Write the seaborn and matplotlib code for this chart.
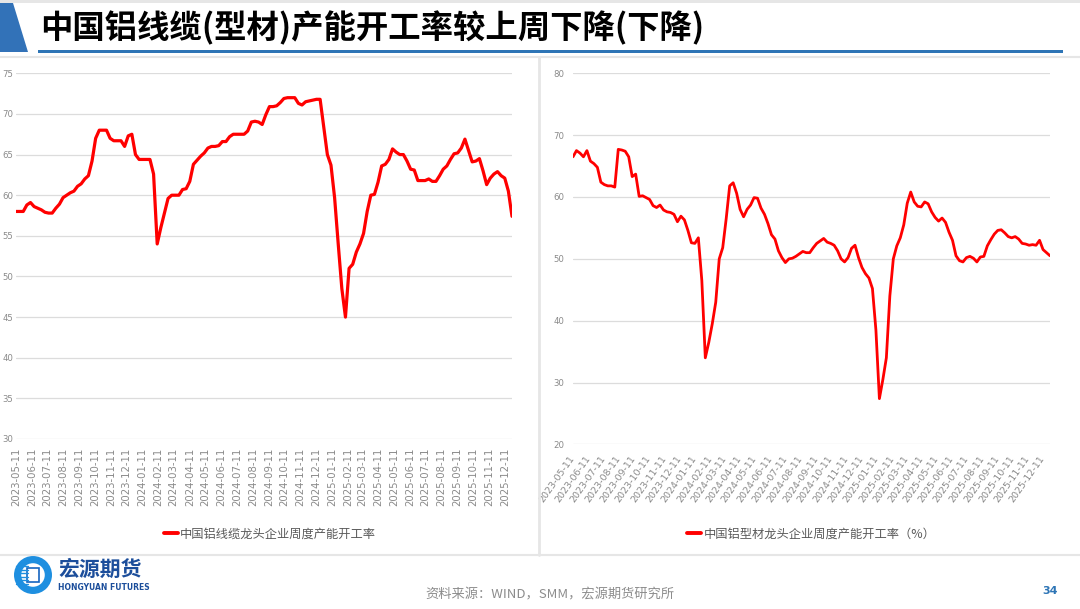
import numpy as np
import pandas as pd
import matplotlib
matplotlib.use("Agg")
import matplotlib.pyplot as plt
import matplotlib.dates as mdates
import seaborn as sns
from matplotlib.patches import Polygon, Rectangle, Circle
from matplotlib.lines import Line2D

# ---------------- data ----------------
title_text = "中国铝线缆(型材)产能开工率较上周下降(下降)"
left_label = "中国铝线缆龙头企业周度产能开工率"
right_label = "中国铝型材龙头企业周度产能开工率（%）"
source_text = "资料来源：WIND，SMM，宏源期货研究所"
page_no = "34"
brand_cn = "宏源期货"
brand_en = "HONGYUAN FUTURES"
start_date = "2023-05-11"

left_vals = [58.0, 58.0, 58.0, 58.8, 59.1, 58.6, 58.4, 58.2, 57.9, 57.8,
             57.8, 58.4, 58.9, 59.7, 60.0, 60.3, 60.5, 61.1, 61.4, 62.0,
             62.4, 64.2, 67.0, 68.0, 68.0, 68.0, 67.0, 66.7, 66.7, 66.7,
             66.0, 67.3, 67.5, 65.0, 64.4, 64.4, 64.4, 64.4, 62.6, 54.0,
             56.0, 57.8, 59.6, 60.0, 60.0, 60.0, 60.7, 60.8, 61.7, 63.8,
             64.3, 64.8, 65.2, 65.8, 66.0, 66.0, 66.1, 66.6, 66.6, 67.2,
             67.5, 67.5, 67.5, 67.5, 67.9, 69.0, 69.1, 69.0, 68.7, 69.9,
             70.9, 70.9, 71.0, 71.4, 71.9, 72.0, 72.0, 72.0, 71.3, 71.1,
             71.5, 71.6, 71.7, 71.8, 71.8, 68.4, 65.0, 63.7, 59.7, 54.0,
             48.5, 45.0, 51.0, 51.5, 53.0, 54.0, 55.3, 58.0, 60.0, 60.1,
             61.6, 63.6, 63.8, 64.4, 65.7, 65.3, 65.0, 65.0, 64.2, 63.2,
             63.1, 61.8, 61.8, 61.8, 62.0, 61.7, 61.7, 62.4, 63.2, 63.6,
             64.4, 65.1, 65.2, 65.8, 66.9, 65.5, 64.1, 64.2, 64.5, 63.0,
             61.3, 62.1, 62.6, 62.9, 62.4, 62.1, 60.5, 57.4]

right_vals = [66.5, 67.5, 67.1, 66.5, 67.5, 65.8, 65.4, 64.8, 62.4, 62.0,
              61.8, 61.8, 61.6, 67.7, 67.6, 67.4, 66.5, 63.3, 63.7, 60.1,
              60.2, 59.9, 59.6, 58.6, 58.3, 58.7, 57.9, 57.6, 57.5, 57.2,
              56.0, 56.9, 56.3, 54.6, 52.6, 52.5, 53.4, 46.5, 34.0, 36.5,
              39.5, 43.0, 50.0, 51.8, 56.5, 61.8, 62.3, 60.6, 58.0, 56.8,
              58.0, 58.7, 59.9, 59.8, 58.2, 57.2, 55.7, 53.9, 53.2, 51.3,
              50.2, 49.4, 50.0, 50.1, 50.4, 50.8, 51.2, 51.0, 51.0, 51.8,
              52.5, 52.9, 53.3, 52.7, 52.5, 52.2, 51.3, 50.0, 49.5, 50.2,
              51.7, 52.2, 50.2, 48.6, 47.6, 46.9, 45.2, 38.5, 27.4, 30.5,
              34.0, 44.0, 50.0, 52.1, 53.4, 55.5, 59.0, 60.8, 59.2, 58.5,
              58.4, 59.2, 58.9, 57.6, 56.7, 56.1, 56.6, 55.9, 54.3, 53.0,
              50.5, 49.7, 49.5, 50.2, 50.4, 50.1, 49.5, 50.3, 50.4, 52.1,
              53.1, 54.0, 54.6, 54.7, 54.2, 53.6, 53.4, 53.6, 53.2, 52.5,
              52.4, 52.2, 52.3, 52.2, 53.0, 51.5, 51.0, 50.5]

left_yticks = [30, 35, 40, 45, 50, 55, 60, 65, 70, 75]
right_yticks = [20, 30, 40, 50, 60, 70, 80]
tick_dates = pd.date_range("2023-05-11", "2025-12-11", freq=pd.DateOffset(months=1))

dates_left = pd.date_range(start_date, periods=len(left_vals), freq="7D")
dates_right = pd.date_range(start_date, periods=len(right_vals), freq="7D")
df_left = pd.DataFrame({"date": dates_left, "value": left_vals})
df_right = pd.DataFrame({"date": dates_right, "value": right_vals})

# ---------------- style ----------------
sns.set_theme(style="white")
plt.rcParams["font.family"] = ["Noto Sans CJK SC", "DejaVu Sans"]
plt.rcParams["axes.unicode_minus"] = False

W, H = 1080, 609
fig = plt.figure(figsize=(W / 100, H / 100), dpi=100)
fig.patch.set_facecolor("white")

def fx(x):
    return x / W

def fy(y):
    return 1 - y / H

tick_font = ["DejaVu Sans"]
tick_color = "#8A8A8A"
grid_color = "#DCDCDC"

axL = fig.add_axes([fx(16), fy(439), fx(512) - fx(16), fy(73.3) - fy(439)])
axR = fig.add_axes([fx(573), fy(444.4), fx(1050) - fx(573), fy(73.3) - fy(444.4)])

sns.lineplot(data=df_left, x="date", y="value", ax=axL, color="#FF0000",
             lw=2.3, label=left_label)
sns.lineplot(data=df_right, x="date", y="value", ax=axR, color="#FF0000",
             lw=2.0, label=right_label)

for ax, ticks in ((axL, left_yticks), (axR, right_yticks)):
    ax.set_facecolor("white")
    ax.set_ylim(ticks[0], ticks[-1])
    ax.set_yticks(ticks)
    ax.yaxis.grid(True, color=grid_color, lw=0.9)
    ax.xaxis.grid(False)
    for s in ax.spines.values():
        s.set_visible(False)
    ax.set_xlabel("")
    ax.set_ylabel("")
    ax.set_xticks(tick_dates)
    ax.xaxis.set_major_formatter(mdates.DateFormatter("%Y-%m-%d"))
    ax.tick_params(axis="both", length=0, colors=tick_color)
    for t in ax.get_yticklabels():
        t.set_family(tick_font)
        t.set_fontstretch("condensed")
        t.set_fontsize(6.8)
        t.set_color(tick_color)

axL.set_xlim(dates_left[0], dates_left[-1])
axR.set_xlim(dates_right[0], dates_right[-1])
axL.tick_params(axis="y", pad=2)
axR.tick_params(axis="y", pad=6)

for t in axL.get_xticklabels():
    t.set_rotation(90)
    t.set_ha("center")
    t.set_va("top")
    t.set_fontsize(7.3)
    t.set_family(tick_font)
    t.set_color(tick_color)
axL.tick_params(axis="x", pad=6)

for t in axR.get_xticklabels():
    t.set_rotation(55)
    t.set_ha("right")
    t.set_va("center")
    t.set_rotation_mode("anchor")
    t.set_fontsize(6.8)
    t.set_family(tick_font)
    t.set_color(tick_color)
axR.tick_params(axis="x", pad=9)

# legends
axL.legend(loc="center", bbox_to_anchor=(fx(270), fy(534)), bbox_transform=fig.transFigure,
           frameon=False, fontsize=8.8, handlelength=1.2, handletextpad=0.15,
           labelcolor="#595959")
axR.legend(loc="center", bbox_to_anchor=(fx(811), fy(534)), bbox_transform=fig.transFigure,
           frameon=False, fontsize=8.8, handlelength=1.2, handletextpad=0.15,
           labelcolor="#595959")
for ax in (axL, axR):
    for h in ax.get_legend().get_lines():
        h.set_linewidth(2.8)

# ---------------- slide decorations ----------------
fig.add_artist(Rectangle((0, fy(3)), 1, 3 / H, transform=fig.transFigure,
                         color="#E6E6E6", lw=0))
fig.add_artist(Polygon([(0, fy(3)), (fx(13), fy(3)), (fx(28), fy(52)), (0, fy(52))],
                       closed=True, transform=fig.transFigure, color="#3272B8", lw=0))
fig.add_artist(Rectangle((fx(38), fy(53)), fx(1063) - fx(38), 3 / H,
                         transform=fig.transFigure, color="#2E75B6", lw=0))
fig.add_artist(Line2D([0, 1], [fy(57), fy(57)], transform=fig.transFigure,
                      color="#E6E6E6", lw=1.5))
fig.add_artist(Line2D([fx(539), fx(539)], [fy(57), fy(555)], transform=fig.transFigure,
                      color="#E6E6E6", lw=2))
fig.add_artist(Line2D([0, 1], [fy(555), fy(555)], transform=fig.transFigure,
                      color="#E6E6E6", lw=1.5))

fig.text(fx(40), fy(28), title_text, fontsize=23.3, fontweight="bold",
         ha="left", va="center", color="black")

fig.text(fx(550), fy(595), source_text, fontsize=9.5, ha="center", va="center",
         color="#8C8C8C")
fig.text(fx(1050), fy(591), page_no, fontsize=8, ha="center", va="center",
         color="#2E75B6", fontweight="bold", family=["DejaVu Sans"])

# logo
axLogo = fig.add_axes([fx(14), fy(594), 38 / W, 38 / H])
axLogo.set_xlim(-1, 1)
axLogo.set_ylim(-1, 1)
axLogo.axis("off")
axLogo.add_patch(Circle((0, 0), 1.0, color="#1E8FE0", lw=0))
axLogo.add_patch(Circle((0, 0), 0.62, color="white", lw=0))
for yy in np.linspace(-0.45, 0.45, 6):
    axLogo.plot([-0.9, -0.25], [yy, yy], color="#1E8FE0", lw=1.0)
axLogo.add_patch(Rectangle((-0.3, -0.35), 0.6, 0.7, facecolor="white",
                           edgecolor="#1565C0", lw=1.2))
fig.text(fx(58), fy(569), brand_cn, fontsize=15, fontweight="bold",
         ha="left", va="center", color="#1C4E9B")
fig.text(fx(58), fy(587), brand_en, fontsize=5.5, fontweight="bold",
         ha="left", va="center", color="#1C4E9B", family=["DejaVu Sans"])

fig.savefig("out.png", dpi=100, facecolor="white")
